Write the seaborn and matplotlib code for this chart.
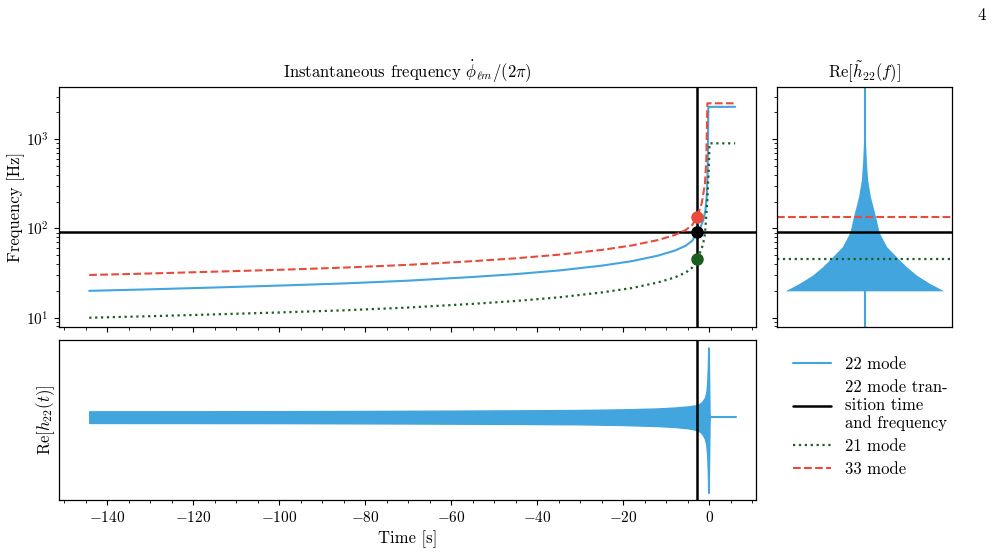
import numpy as np
import pandas as pd
import matplotlib
matplotlib.use("Agg")
import matplotlib.pyplot as plt
import seaborn as sns
from matplotlib.ticker import MultipleLocator, NullFormatter, NullLocator

# ---------------- data ----------------
mode22_t = [-144.2, -130, -115, -100, -85, -70, -55, -45, -35, -25, -18, -12, -8,
            -5.5, -4.0, -2.8, -2.0, -1.4, -0.9, -0.6, -0.4, -0.3, -0.23, 6.0]
mode22_f = [20.0, 20.8, 21.8, 22.9, 24.2, 26.0, 28.6, 30.8, 33.8, 38.3, 43.0, 49.5, 56.5,
            64.0, 72.5, 90.4, 105, 124, 160, 230, 420, 900, 2300, 2300]

mode33_t = [-144.2, -130, -115, -100, -85, -70, -55, -45, -35, -25, -18, -12, -8,
            -5.5, -4.0, -2.8, -1.77, -1.0, -0.7, -0.55, -0.45, 6.0]
mode33_f = [30.1, 31.3, 32.8, 34.4, 36.4, 39.1, 43.0, 46.3, 50.8, 57.5, 64.5, 74.0, 84.5,
            96.0, 109, 135, 191, 320, 600, 1400, 2520, 2520]

mode21_t = [-144.2, -130, -115, -100, -85, -70, -55, -45, -35, -25, -18, -12, -8,
            -5.5, -4.0, -2.8, -1.5, -1.0, -0.47, -0.15, 0.05, 6.0]
mode21_f = [10.0, 10.4, 10.9, 11.45, 12.1, 13.0, 14.3, 15.4, 16.9, 19.2, 21.5, 24.8, 28.3,
            32.0, 36.3, 45.0, 65.0, 88.0, 208, 450, 897, 897]

t_transition = -2.8
f_transition = 90.4
f_transition_21 = 45.0
f_transition_33 = 135.0

# envelope of Re[h22(t)]
env_t = [-144.2, -120, -100, -80, -60, -40, -30, -20, -12, -8, -5, -2.9, -2.0, -1.5,
         -1.0, -0.7, -0.5, -0.35, -0.25, -0.15, -0.05, 0.05, 0.15]
env_upper = [0.077, 0.078, 0.079, 0.082, 0.086, 0.091, 0.095, 0.103, 0.115, 0.127, 0.142,
             0.158, 0.185, 0.215, 0.26, 0.33, 0.45, 0.65, 0.92, 0.92, 0.5, 0.05, 0.0]
env_lower = [-0.077, -0.078, -0.079, -0.082, -0.086, -0.091, -0.095, -0.104, -0.118, -0.13,
             -0.147, -0.17, -0.2, -0.235, -0.29, -0.37, -0.5, -0.72, -1.0, -1.0, -0.55, -0.05, 0.0]
ring_t = [0.15, 6.3]
ring_h = [0.0, 0.0]

# envelope of Re[h22(f)]
fd_f = [20, 24.3, 30, 37.2, 45, 62.4, 90, 135, 226, 347, 535, 822, 1260, 1800]
fd_a = [1.0, 0.82, 0.656, 0.53, 0.435, 0.28, 0.185, 0.14, 0.075, 0.04, 0.025, 0.015, 0.008, 0.0]

# ---------------- style ----------------
sns.set_style("ticks")
plt.rcParams.update({
    "font.family": "serif",
    "font.serif": ["cmr10"],
    "mathtext.fontset": "cm",
    "axes.formatter.use_mathtext": True,
    "font.size": 12,
    "xtick.labelsize": 11,
    "ytick.labelsize": 11,
    "axes.edgecolor": "black",
    "axes.labelcolor": "black",
    "text.color": "black",
    "xtick.color": "black",
    "ytick.color": "black",
    "axes.linewidth": 0.9,
})

BLUE = "#42a5de"
RED = "#e84a3b"
GREEN = "#1b5e20"

fig = plt.figure(figsize=(9.93, 5.53), dpi=100)
ax_f = fig.add_axes([0.0591, 0.4092, 0.702, 0.434])
ax_h = fig.add_axes([0.0591, 0.0958, 0.702, 0.2888], sharex=ax_f)
ax_fd = fig.add_axes([0.7828, 0.4092, 0.1756, 0.434], sharey=ax_f)

# ---- instantaneous frequency panel ----
sns.lineplot(x=mode22_t, y=mode22_f, ax=ax_f, color=BLUE, lw=1.5, label="22 mode", legend=False)
ax_f.axhline(f_transition, color="black", lw=1.8, label="22 mode tran-\nsition time\nand frequency")
ax_f.axvline(t_transition, color="black", lw=1.8)
sns.lineplot(x=mode21_t, y=mode21_f, ax=ax_f, color=GREEN, lw=1.6, linestyle=":", label="21 mode", legend=False)
sns.lineplot(x=mode33_t, y=mode33_f, ax=ax_f, color=RED, lw=1.5, linestyle="--", label="33 mode", legend=False)
ax_f.plot([t_transition], [f_transition_33], "o", color=RED, ms=8, zorder=5)
ax_f.plot([t_transition], [f_transition], "o", color="black", ms=8, zorder=5)
ax_f.plot([t_transition], [f_transition_21], "o", color=GREEN, ms=8, zorder=5)
ax_f.set_yscale("log")
ax_f.set_ylim(7.93, 3865)
ax_f.set_ylabel("Frequency [Hz]", labelpad=1.0)
ax_f.set_title(r"Instantaneous frequency $\dot{\phi}_{\ell m}/(2\pi)$", fontsize=12)
ax_f.tick_params(labelbottom=False)

# ---- time-domain strain panel ----
ax_h.fill_between(env_t, env_lower, env_upper, color=BLUE, lw=1.0, edgecolor=BLUE)
sns.lineplot(x=ring_t, y=ring_h, ax=ax_h, color=BLUE, lw=1.5)
ax_h.axvline(t_transition, color="black", lw=1.8)
ax_h.set_ylim(-1.096, 1.016)
ax_h.xaxis.set_major_locator(MultipleLocator(20))
ax_h.xaxis.set_minor_locator(MultipleLocator(5))
ax_h.yaxis.set_major_locator(NullLocator())
ax_h.yaxis.set_minor_locator(NullLocator())
ax_h.set_xlabel("Time [s]")
ax_h.set_ylabel(r"Re$[h_{22}(t)]$", labelpad=1.0)
ax_f.set_xlim(-151.3, 10.8)

# ---- frequency-domain panel ----
ax_fd.fill_betweenx(fd_f, [-a for a in fd_a], fd_a, color=BLUE, lw=0)
ax_fd.axvline(0, color=BLUE, lw=1.5)
ax_fd.axhline(f_transition_33, color=RED, lw=1.5, linestyle="--")
ax_fd.axhline(f_transition, color="black", lw=1.8)
ax_fd.axhline(f_transition_21, color=GREEN, lw=1.6, linestyle=":")
ax_fd.set_xlim(-1.1, 1.1)
ax_fd.xaxis.set_major_locator(NullLocator())
ax_fd.xaxis.set_minor_locator(NullLocator())
ax_fd.tick_params(axis="y", which="both", labelleft=False)
ax_fd.set_title(r"Re$[\tilde{h}_{22}(f)]$", fontsize=12)

# ---- legend ----
handles, labels = ax_f.get_legend_handles_labels()
fig.legend(handles, labels, loc="upper left", bbox_to_anchor=(0.792, 0.3665),
           frameon=False, fontsize=12, handlelength=2.3, handletextpad=0.8,
           borderaxespad=0.0, labelspacing=0.45)

fig.text(0.993, 0.973, "4", ha="right", va="center", fontsize=12)

fig.savefig("out.png", dpi=100)
